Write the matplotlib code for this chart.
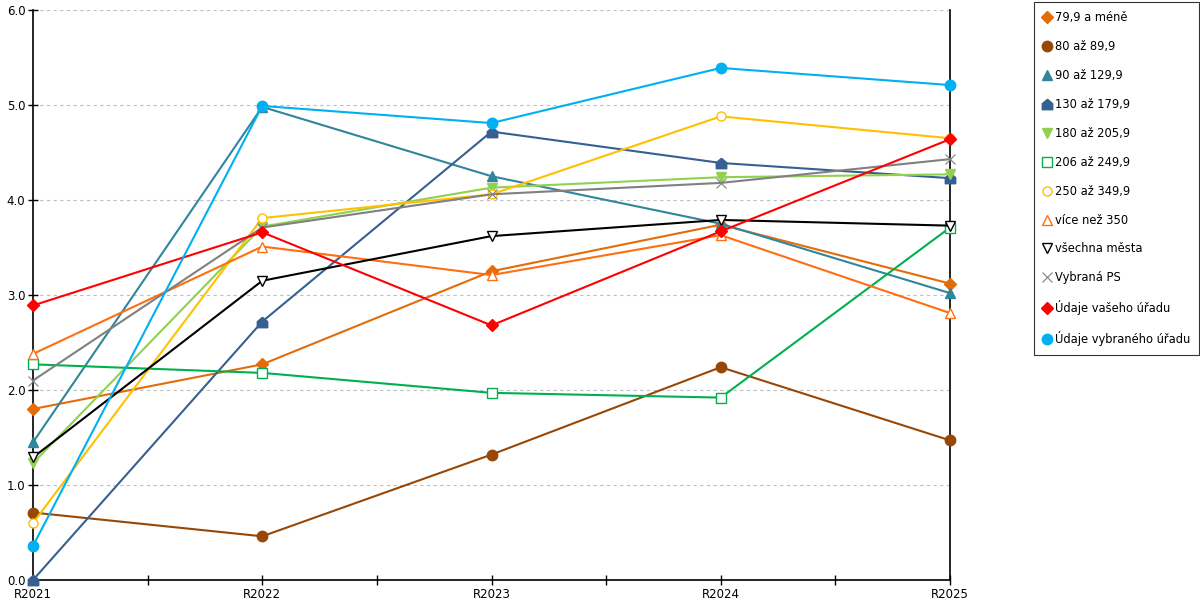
import matplotlib
matplotlib.use("Agg")
from matplotlib import pyplot as plt
from matplotlib.lines import Line2D
from matplotlib.ticker import FormatStrFormatter, FixedLocator

# kategorie na ose x
years = ["R2021", "R2022", "R2023", "R2024", "R2025"]

# hodnoty jednotlivych rad
s_79 = [1.80, 2.27, 3.25, 3.74, 3.12]
s_80 = [0.71, 0.46, 1.32, 2.24, 1.47]
s_90 = [1.45, 4.98, 4.25, 3.75, 3.02]
s_130 = [0.0, 2.72, 4.72, 4.39, 4.23]
s_180 = [1.23, 3.72, 4.13, 4.24, 4.27]
s_206 = [2.27, 2.18, 1.97, 1.92, 3.71]
s_250 = [0.60, 3.81, 4.06, 4.88, 4.65]
s_350 = [2.38, 3.51, 3.21, 3.63, 2.81]
s_all = [1.29, 3.15, 3.62, 3.79, 3.73]
s_ps = [2.10, 3.71, 4.06, 4.18, 4.43]
s_vas = [2.89, 3.66, 2.68, 3.67, 4.64]
s_vyb = [0.36, 4.99, 4.81, 5.39, 5.21]

house = [(0, 1), (1, 0.15), (1, -1), (-1, -1), (-1, 0.15), (0, 1)]

# (popisek, data, barva, marker, vypln, velikost)
series = [
    ("79,9 a méně", s_79, "#E36C09", "D", True, 6),
    ("80 až 89,9", s_80, "#974706", "o", True, 7.5),
    ("90 až 129,9", s_90, "#31859C", "^", True, 7.5),
    ("130 až 179,9", s_130, "#366092", house, True, 7.5),
    ("180 až 205,9", s_180, "#92D050", "v", True, 7.5),
    ("206 až 249,9", s_206, "#00B050", "s", False, 6.5),
    ("250 až 349,9", s_250, "#FFC000", "o", False, 6.5),
    ("více než 350", s_350, "#FF6E12", "^", False, 7.5),
    ("všechna města", s_all, "#000000", "v", False, 7.5),
    ("Vybraná PS", s_ps, "#808080", "x", False, 7.5),
    ("Údaje vašeho úřadu", s_vas, "#FF0000", "D", True, 6),
    ("Údaje vybraného úřadu", s_vyb, "#00B0F0", "o", True, 7.5),
]

plt.rcParams["font.family"] = ["DejaVu Sans"]
plt.rcParams["font.size"] = 8.5

fig = plt.figure(figsize=(12, 6), dpi=100)
ax = fig.add_axes([33 / 1200, 20 / 600, 917 / 1200, 570 / 600])

x = list(range(len(years)))
handles = []
for label, vals, color, marker, filled, ms in series:
    face = color if filled else "white"
    mew = 0.8 if marker == "x" else 1.0
    ax.plot(x, vals, color=color, lw=1.5, marker=marker, ms=ms,
            markerfacecolor=face if marker != "x" else color,
            markeredgecolor=color, markeredgewidth=mew, clip_on=False,
            zorder=3)
    handles.append(Line2D([], [], linestyle="None", marker=marker, ms=ms,
                          markerfacecolor=face if marker != "x" else color,
                          markeredgecolor=color, markeredgewidth=mew,
                          label=label))

ax.set_xlim(0, 4)
ax.set_ylim(0, 6)
ax.set_xticks(x)
ax.set_xticklabels(years)
ax.xaxis.set_minor_locator(FixedLocator([0.5, 1.5, 2.5, 3.5]))
ax.set_yticks([0, 1, 2, 3, 4, 5, 6])
ax.yaxis.set_major_formatter(FormatStrFormatter("%.1f"))
ax.tick_params(axis="both", which="both", direction="inout", length=7,
               width=1, colors="black", pad=2)
ax.tick_params(axis="y", which="major", right=False)

ax.grid(axis="y", linestyle=(0, (3, 3)), color="#BFBFBF", lw=0.8)
ax.set_axisbelow(True)

ax.spines["top"].set_visible(False)
for side in ["left", "bottom", "right"]:
    ax.spines[side].set_color("black")
    ax.spines[side].set_linewidth(1.2)

leg = fig.legend(handles=handles, loc="upper left",
                 bbox_to_anchor=(1034 / 1200, 1 - 2 / 600),
                 frameon=True, fancybox=False, edgecolor="black",
                 handlelength=0.7, handletextpad=0.3, labelspacing=1.38,
                 borderpad=0.8, borderaxespad=0, fontsize=8.3)
leg.get_frame().set_linewidth(0.8)

plt.savefig("out.png", dpi=100)
